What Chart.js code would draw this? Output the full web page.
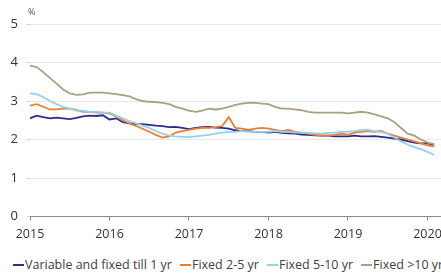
<!DOCTYPE html>
<html>
<head>
<meta charset="utf-8">
<script src="https://cdn.jsdelivr.net/npm/chart.js@4"></script>
<style>
  html, body { margin: 0; padding: 0; background: #fff; overflow: hidden; width: 441px; height: 277px; }
  #wrap { position: absolute; left: 0; top: 0; width: 480px; height: 250px; }
  #legend { position: absolute; left: 13px; top: 256px; white-space: nowrap; font: 12.5px "Open Sans", sans-serif; color: #404040; }
  #legend span.item { margin-right: 8px; }
  #legend span.mark { display: inline-block; width: 11px; height: 2px; vertical-align: middle; margin-right: 1px; position: relative; top: -1px; }
</style>
</head>
<body>
<div id="wrap"><canvas id="myChart"></canvas></div>
<div id="legend"></div>
<script>
// monthly, Jan 2015 .. Feb 2020
const startYear = 2015;
const yearTicks = [2015, 2016, 2017, 2018, 2019, 2020];
const yTicks = [0, 1, 2, 3, 4, 5];
const seriesNames = ['Variable and fixed till 1 yr', 'Fixed 2-5 yr', 'Fixed 5-10 yr', 'Fixed >10 yr'];
const seriesColors = ['#2a2d8f', '#ef7d2f', '#93d2ee', '#a9a07f'];

const variable1yr = [
  2.55, 2.62, 2.58, 2.55, 2.57, 2.55, 2.53, 2.56, 2.60, 2.62, 2.61, 2.63,
  2.52, 2.55, 2.45, 2.42, 2.40, 2.40, 2.38, 2.36, 2.35, 2.32, 2.33, 2.30,
  2.27, 2.30, 2.32, 2.33, 2.31, 2.30, 2.28, 2.24, 2.22, 2.22, 2.20, 2.20,
  2.18, 2.20, 2.17, 2.16, 2.15, 2.13, 2.12, 2.11, 2.10, 2.10, 2.08, 2.08,
  2.08, 2.10, 2.08, 2.08, 2.09, 2.07, 2.05, 2.02, 2.00, 1.96, 1.92, 1.90,
  1.90, 1.86
];
const fixed2to5 = [
  2.88, 2.92, 2.85, 2.78, 2.78, 2.80, 2.80, 2.77, 2.72, 2.72, 2.70, 2.70,
  2.68, 2.60, 2.50, 2.42, 2.35, 2.28, 2.20, 2.12, 2.05, 2.08, 2.18, 2.22,
  2.25, 2.28, 2.30, 2.30, 2.32, 2.35, 2.58, 2.30, 2.28, 2.25, 2.28, 2.30,
  2.28, 2.25, 2.22, 2.25, 2.20, 2.18, 2.15, 2.12, 2.10, 2.10, 2.12, 2.15,
  2.12, 2.18, 2.20, 2.22, 2.20, 2.22, 2.15, 2.10, 2.05, 2.00, 1.95, 1.90,
  1.85, 1.82
];
const fixed5to10 = [
  3.20, 3.18, 3.10, 3.00, 2.92, 2.85, 2.80, 2.75, 2.75, 2.72, 2.72, 2.70,
  2.70, 2.62, 2.55, 2.48, 2.42, 2.36, 2.30, 2.22, 2.15, 2.10, 2.08, 2.07,
  2.06, 2.08, 2.10, 2.12, 2.15, 2.18, 2.20, 2.20, 2.22, 2.20, 2.20, 2.20,
  2.20, 2.22, 2.20, 2.20, 2.18, 2.18, 2.17, 2.16, 2.15, 2.17, 2.18, 2.20,
  2.20, 2.22, 2.25, 2.25, 2.22, 2.20, 2.15, 2.05, 1.95, 1.87, 1.80, 1.75,
  1.68, 1.60
];
const fixedOver10 = [
  3.92, 3.88, 3.75, 3.60, 3.45, 3.30, 3.20, 3.16, 3.17, 3.22, 3.22, 3.22,
  3.20, 3.18, 3.15, 3.12, 3.05, 3.00, 2.98, 2.97, 2.95, 2.92, 2.85, 2.80,
  2.75, 2.72, 2.75, 2.80, 2.78, 2.80, 2.85, 2.90, 2.93, 2.95, 2.95, 2.93,
  2.92, 2.85, 2.80, 2.80, 2.78, 2.76, 2.72, 2.70, 2.70, 2.70, 2.70, 2.70,
  2.68, 2.70, 2.72, 2.70, 2.65, 2.60, 2.55, 2.45, 2.30, 2.15, 2.10, 2.00,
  1.92, 1.88
];

const toPoints = arr => arr.map((v, i) => ({ x: startYear + i / 12, y: v }));
const allSeries = [variable1yr, fixed2to5, fixed5to10, fixedOver10];

// draw order: tan, light blue, orange, dark blue on top
const order = [3, 2, 1, 0];
const datasets = order.map(i => ({
  label: seriesNames[i],
  data: toPoints(allSeries[i]),
  borderColor: seriesColors[i],
  backgroundColor: seriesColors[i],
  borderWidth: 1.8,
  pointRadius: 0,
  tension: 0
}));

// legend
const legend = document.getElementById('legend');
seriesNames.forEach((name, i) => {
  const item = document.createElement('span');
  item.className = 'item';
  item.innerHTML = '<span class="mark" style="background:' + seriesColors[i] + '"></span>' + name;
  legend.appendChild(item);
});

const percentLabel = {
  id: 'percentLabel',
  afterDraw(chart) {
    const c = chart.ctx;
    c.save();
    c.font = '9px "Open Sans", sans-serif';
    c.fillStyle = '#555';
    c.textBaseline = 'middle';
    c.fillText('%', 28, 12);
    c.restore();
  }
};

const ctx = document.getElementById('myChart');
new Chart(ctx, {
  type: 'line',
  data: { datasets: datasets },
  options: {
    responsive: true,
    maintainAspectRatio: false,
    animation: false,
    layout: { padding: { top: 24, left: 0, right: 0, bottom: 0 } },
    plugins: {
      legend: { display: false },
      tooltip: { enabled: false }
    },
    scales: {
      x: {
        type: 'linear',
        min: 2015,
        max: 2015 + 450 / 79.5,
        afterBuildTicks: scale => { scale.ticks = yearTicks.map(v => ({ value: v })); },
        afterFit: scale => { scale.height = 33.5; },
        border: { display: true, color: '#8a8a8a', width: 1 },
        grid: { drawOnChartArea: false, drawTicks: true, tickLength: 4, color: '#8a8a8a' },
        ticks: {
          autoSkip: false,
          maxRotation: 0,
          padding: 6,
          color: '#333',
          font: { family: '"Open Sans", sans-serif', size: 12.5 },
          callback: v => String(v)
        }
      },
      y: {
        min: 0,
        max: 5,
        afterBuildTicks: scale => { scale.ticks = yTicks.map(v => ({ value: v })); },
        afterFit: scale => { scale.width = 30; },
        border: { display: false },
        grid: { color: '#e8e8e8', tickLength: 3, tickColor: '#cfcfcf' },
        ticks: {
          padding: 9,
          color: '#333',
          font: { family: '"Open Sans", sans-serif', size: 13 }
        }
      }
    }
  },
  plugins: [percentLabel]
});
</script>
</body>
</html>
